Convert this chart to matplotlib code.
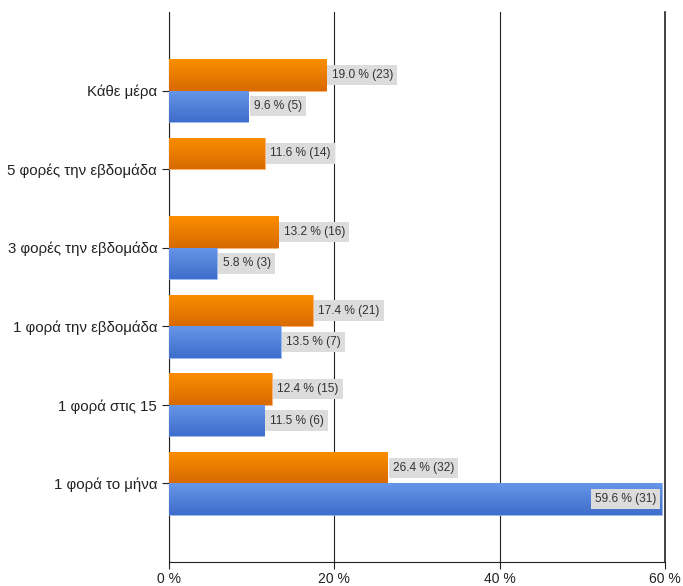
import numpy as np
import matplotlib.pyplot as plt
from matplotlib.colors import LinearSegmentedColormap

categories = ["Κάθε μέρα", "5 φορές την εβδομάδα", "3 φορές την εβδομάδα",
              "1 φορά την εβδομάδα", "1 φορά στις 15", "1 φορά το μήνα"]
orange_pct = [19.0, 11.6, 13.2, 17.4, 12.4, 26.4]
orange_n = [23, 14, 16, 21, 15, 32]
blue_pct = [9.6, 0.0, 5.8, 13.5, 11.5, 59.6]
blue_n = [5, 0, 3, 7, 6, 31]
xticks = [0, 20, 40, 60]

plt.rcParams['font.family'] = ['Liberation Sans', 'DejaVu Sans']

fig = plt.figure(figsize=(6.83, 5.86), dpi=100)
ax = fig.add_axes([169 / 683, 24 / 586, 496 / 683, 550 / 586])

y = np.arange(len(categories))
h = 0.4
orange_cm = LinearSegmentedColormap.from_list("o", ["#fb8e00", "#d86a00"])
blue_cm = LinearSegmentedColormap.from_list("b", ["#6696e8", "#3f6dcb"])
grad = np.linspace(0, 1, 64).reshape(-1, 1)

ob = ax.barh(y - h / 2, orange_pct, height=h, color="#ee7a00", edgecolor="#f9b070", linewidth=0.5, zorder=3)
blue_mask = np.array(blue_pct) > 0
bb = ax.barh(y[blue_mask] + h / 2, np.array(blue_pct)[blue_mask], height=h, color="#5283dc",
             edgecolor="#9ab8f0", linewidth=0.5, zorder=3)
for bars, cm in [(ob, orange_cm), (bb, blue_cm)]:
    for p in bars:
        x0, y0 = p.get_x(), p.get_y()
        im = ax.imshow(grad, cmap=cm, aspect="auto", zorder=3.5,
                       extent=[x0, x0 + p.get_width(), y0 + p.get_height(), y0])
        im.set_clip_path(p)

box = dict(boxstyle="square,pad=0.35", facecolor="#dcdcdc", edgecolor="none")
for yi, v, n in zip(y, orange_pct, orange_n):
    ax.annotate(f"{v:.1f} % ({n})", (v, yi - h / 2), xytext=(4, 0), textcoords="offset points",
                va="center", ha="left", fontsize=8.6, color="#333333", bbox=box, zorder=4)
for yi, v, n in zip(y, blue_pct, blue_n):
    if v <= 0:
        continue
    if v > 50:
        ax.annotate(f"{v:.1f} % ({n})", (v, yi + h / 2), xytext=(-4, 0), textcoords="offset points",
                    va="center", ha="right", fontsize=8.6, color="#333333", bbox=box, zorder=4)
    else:
        ax.annotate(f"{v:.1f} % ({n})", (v, yi + h / 2), xytext=(4, 0), textcoords="offset points",
                    va="center", ha="left", fontsize=8.6, color="#333333", bbox=box, zorder=4)

ax.set_xlim(0, 60)
ax.set_ylim(6, -1)
ax.set_yticks(y)
ax.set_yticklabels(categories, fontsize=10.8, color="#222222")
ax.set_xticks(xticks)
ax.set_xticklabels([f"{t} %" for t in xticks], fontsize=10, color="#222222")
ax.tick_params(axis="both", length=5, width=0.8, color="#222222")
ax.tick_params(axis="x", pad=2)
ax.grid(axis="x", color="#222222", linewidth=0.8, zorder=1)
ax.axvline(60, color="#222222", linewidth=1.2, zorder=1, clip_on=False)
for s in ["top", "right"]:
    ax.spines[s].set_visible(False)
for s in ["left", "bottom"]:
    ax.spines[s].set_color("#222222")
    ax.spines[s].set_linewidth(0.8)

fig.savefig("out.png", dpi=100)
